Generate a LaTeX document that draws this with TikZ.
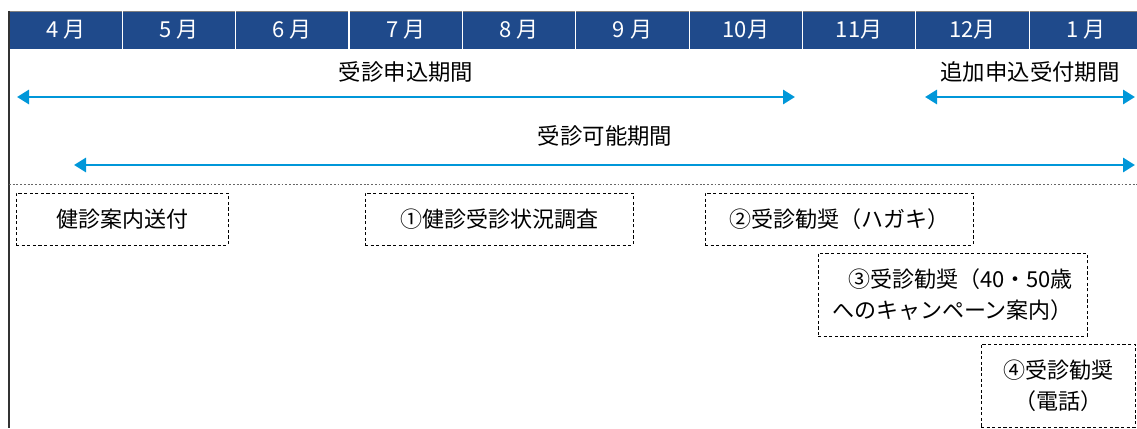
\documentclass[tikz,border=0pt]{standalone}
\usepackage{fontspec}
\setmainfont{Noto Sans CJK JP}
\usepackage{xcolor}
\definecolor{hdblue}{RGB}{31, 74, 139}
\definecolor{arblue}{RGB}{0, 151, 217}
\usetikzlibrary{arrows.meta, positioning}

\begin{document}
\begin{tikzpicture}[
    x=0.75pt, y=-0.75pt,
    every node/.style={align=center, inner sep=0pt},
    month/.style={text=white, font=\fontsize{16.5}{18}\selectfont},
    period/.style={font=\fontsize{16.8}{20}\selectfont},
    task/.style={draw, dash pattern=on 2.4pt off 1.8pt, line width=0.6pt, font=\fontsize{16.5}{23}\selectfont},
    span/.style={{Triangle[length=9pt, width=10.5pt]}-{Triangle[length=9pt, width=10.5pt]}, line width=2.2pt, arblue}
]
\useasboundingbox (0,0) rectangle (1137,428);

% Header
\fill[hdblue] (9,11) rectangle (1143,49);
\draw[black!50, line width=0.6pt] (9,11) -- (1137,11);
\foreach \m [count=\i from 0] in {4 月, 5 月, 6 月, 7 月, 8 月, 9 月, 10月, 11月, 12月, 1 月}
    \node[month] (m\i) at (9+113.35*\i+56.7, 30) {\m};
\foreach \i in {1,...,9}
    \draw[white, line width=0.9pt] (9+113.35*\i, 11) -- (9+113.35*\i, 49);
\draw[black!80, line width=0.8pt] (9,11) -- (9,428);
\draw[black!60, dash pattern=on 1.4pt off 1.4pt, line width=0.6pt] (9,184) -- (1137,184);

% Nodes
\node[period] (apply) at (406,72) {受診申込期間};
\node[period] (extra) at (1030,72) {追加申込受付期間};
\node[period] (exam) at (605,136) {受診可能期間};
\coordinate (a1) at (17,97);
\coordinate (a2) at (795,97);
\coordinate (b1) at (925,97);
\coordinate (b2) at (1135,97);
\coordinate (c1) at (74,165);
\coordinate (c2) at (1135,165);

\node[task, minimum width=159pt, minimum height=39pt] (guide) at (122,219) {健診案内送付};
\node[task, minimum width=201pt, minimum height=39pt] (survey) at (499,219) {①健診受診状況調査};
\node[task, minimum width=201pt, minimum height=39pt] (card) at (839,219) {②受診勧奨（ハガキ）};
\node[task, minimum width=201.75pt, minimum height=62.25pt, align=right] (camp) at (952.5,294.5) {③受診勧奨（40・50歳\\へのキャンペーン案内）};
\node[task, minimum width=115.5pt, minimum height=62.25pt] (phone) at (1058,385.5) {④受診勧奨\\（電話）};

% Connections
\draw[span] (a1) -- (a2);
\draw[span] (b1) -- (b2);
\draw[span] (c1) -- (c2);

\end{tikzpicture}
\end{document}
